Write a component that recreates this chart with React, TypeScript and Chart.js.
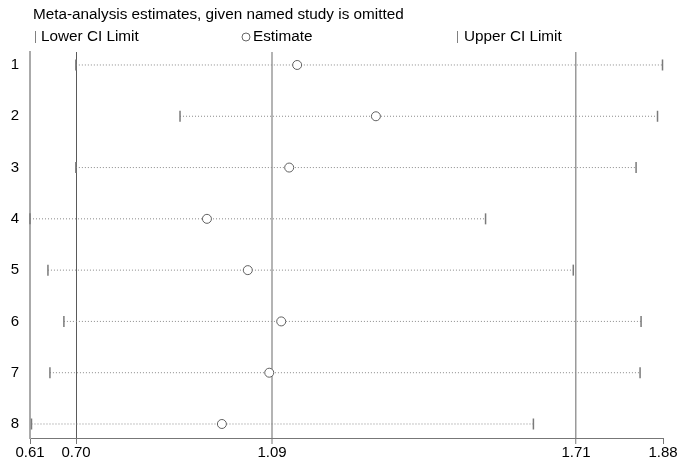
import React, { useEffect, useRef } from "react";
import { Chart, registerables } from "chart.js";

Chart.register(...registerables);

// ---- data ----
const studies = ["1", "2", "3", "4", "5", "6", "7", "8"];
const lowerCI = [0.702, 0.911, 0.702, 0.61, 0.646, 0.678, 0.65, 0.613];
const estimate = [1.146, 1.304, 1.13, 0.965, 1.047, 1.114, 1.09, 0.995];
const upperCI = [1.879, 1.869, 1.826, 1.524, 1.7, 1.836, 1.834, 1.62];
const tickValues = [0.61, 0.7023, 1.0956, 1.7055, 1.88];
const tickLabels = ["0.61", "0.70", "1.09", "1.71", "1.88"];
const titleText = "Meta-analysis estimates, given named study is omitted";
const legendLabels = ["Lower CI Limit", "Estimate", "Upper CI Limit"];

// ---- styles ----
const FONT = '"Liberation Sans", Arial, Helvetica, sans-serif';
const gridColors = ["rgba(0,0,0,0)", "#5a5a5a", "#b4b4b4", "#9a9a9a", "rgba(0,0,0,0)"];
const gridWidths = [1, 1, 2, 1.5, 1];

const headerPlugin = {
  id: "header",
  afterDraw(chart: any) {
    const ctx = chart.ctx as CanvasRenderingContext2D;
    ctx.save();
    ctx.font = `15.3px ${FONT}`;
    ctx.fillStyle = "#000";
    ctx.textBaseline = "middle";
    ctx.textAlign = "left";
    ctx.fillText(titleText, 33, 15);
    const ly = 37;
    // Lower CI marker
    ctx.strokeStyle = "#808080";
    ctx.lineWidth = 1;
    ctx.beginPath();
    ctx.moveTo(35.5, ly - 6);
    ctx.lineTo(35.5, ly + 6);
    ctx.stroke();
    ctx.fillText(legendLabels[0], 41, ly);
    // Estimate marker
    ctx.strokeStyle = "#666";
    ctx.beginPath();
    ctx.arc(246, ly, 4, 0, Math.PI * 2);
    ctx.stroke();
    ctx.fillText(legendLabels[1], 253, ly);
    // Upper CI marker
    ctx.strokeStyle = "#808080";
    ctx.beginPath();
    ctx.moveTo(457.5, ly - 6);
    ctx.lineTo(457.5, ly + 6);
    ctx.stroke();
    ctx.fillText(legendLabels[2], 464, ly);
    ctx.restore();
  },
};

export default function App() {
  const ref = useRef<HTMLCanvasElement>(null);

  useEffect(() => {
    const canvas = ref.current;
    if (!canvas) return;
    const rows = studies.map((_, i) => i + 1);

    const datasets: any[] = [
      {
        label: legendLabels[1],
        data: estimate.map((v, i) => ({ x: v, y: rows[i] })),
        pointStyle: "circle",
        pointRadius: 4.5,
        pointBorderColor: "#606060",
        pointBackgroundColor: "#fff",
        pointBorderWidth: 1,
        order: 0,
        clip: false,
      },
      {
        label: legendLabels[0],
        data: lowerCI.map((v, i) => ({ x: v, y: rows[i] })),
        pointStyle: "line",
        pointRotation: 90,
        pointRadius: 5.5,
        pointBorderColor: "#7a7a7a",
        pointBorderWidth: 1.5,
        order: 1,
        clip: false,
      },
      {
        label: legendLabels[2],
        data: upperCI.map((v, i) => ({ x: v, y: rows[i] })),
        pointStyle: "line",
        pointRotation: 90,
        pointRadius: 5.5,
        pointBorderColor: "#7a7a7a",
        pointBorderWidth: 1.5,
        order: 1,
        clip: false,
      },
      ...studies.map((s, i) => ({
        label: "CI " + s,
        data: [
          { x: lowerCI[i], y: rows[i] },
          { x: upperCI[i], y: rows[i] },
        ],
        showLine: true,
        borderColor: "#8a8a8a",
        borderWidth: 1,
        borderDash: [1, 2],
        pointRadius: 0,
        order: 2,
        clip: false,
      })),
    ];

    const chart = new Chart(canvas, {
      type: "scatter",
      data: { datasets },
      options: {
        animation: false,
        responsive: false,
        events: [],
        layout: { padding: { left: 0, right: 19, top: 52, bottom: 0 } },
        plugins: {
          legend: { display: false },
          tooltip: { enabled: false },
        },
        scales: {
          x: {
            type: "linear",
            min: 0.61,
            max: 1.88,
            afterBuildTicks: (s: any) => {
              s.ticks = tickValues.map((v) => ({ value: v }));
            },
            afterFit: (s: any) => {
              s.height = 28;
            },
            ticks: {
              callback: (_v: any, i: number) => tickLabels[i],
              font: { size: 15, family: FONT },
              color: "#000",
              padding: 0,
              maxRotation: 0,
              autoSkip: false,
            },
            grid: {
              drawOnChartArea: true,
              drawTicks: true,
              tickLength: 6,
              color: (c: any) => gridColors[c.index] ?? "rgba(0,0,0,0)",
              lineWidth: (c: any) => gridWidths[c.index] ?? 1,
              tickColor: "#777",
              tickWidth: 1,
            },
            border: { display: true, color: "#777", width: 1 },
          },
          y: {
            type: "linear",
            reverse: true,
            min: 0.747,
            max: 8.273,
            afterBuildTicks: (s: any) => {
              s.ticks = rows.map((v) => ({ value: v }));
            },
            afterFit: (s: any) => {
              s.width = 30;
            },
            ticks: {
              callback: (_v: any, i: number) => studies[i],
              font: { size: 15, family: FONT },
              color: "#000",
              padding: 11,
            },
            grid: { display: false, drawTicks: false },
            border: { display: true, color: "#aaa", width: 2 },
          },
        },
      },
      plugins: [headerPlugin],
    } as any);

    return () => chart.destroy();
  }, []);

  return (
    <div style={{ position: "fixed", left: 0, top: 0, width: 682, height: 466 }}>
      <canvas ref={ref} width={682} height={466} style={{ display: "block" }} />
    </div>
  );
}
